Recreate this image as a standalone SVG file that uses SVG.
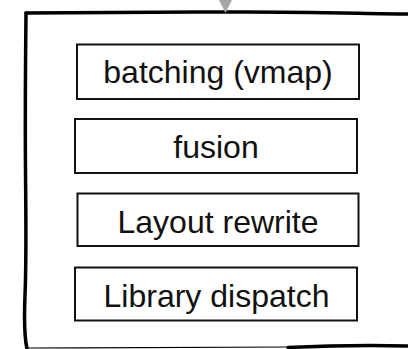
<svg xmlns="http://www.w3.org/2000/svg" width="408" height="349" viewBox="0 0 408 349">
<style>
.box{fill:#fff;stroke:#111;stroke-width:2}
.lbl{font-family:"Liberation Sans",Arial,sans-serif;font-size:32px;fill:#111;text-anchor:middle}
.frame{fill:none;stroke:#000;stroke-linecap:round;stroke-linejoin:round}
</style>
<rect width="408" height="349" fill="#fff"/>
<g id="container">
<path class="frame" stroke-width="3.5" d="M410,14 C360,13.5 300,11.5 225,12 C150,12.3 70,12.5 26,13"/>
<path class="frame" stroke-width="3.5" d="M26,13 C25.5,60 25,110 25.5,170 C26,230 26.5,260 25,295 C24,320 25,340 27,349"/>
<path class="frame" stroke-width="1.2" stroke="#555" d="M27,348 C120,348 220,347.5 290,347"/>
<path class="frame" stroke-width="3.5" d="M288,347.5 C330,345.5 370,345 410,346"/>
</g>
<g id="connectors">
<polygon points="219,0 232,0 225.5,13" fill="#a6a6a6"/>
</g>
<g id="n1"><rect class="box" x="77" y="44.5" width="282" height="54.5"/><text class="lbl" x="218" y="83">batching (vmap)</text></g>
<g id="n2"><rect class="box" x="75" y="119" width="282" height="54"/><text class="lbl" x="216" y="158">fusion</text></g>
<g id="n3"><rect class="box" x="77.5" y="193.5" width="281" height="52.5"/><text class="lbl" x="218" y="232.5">Layout rewrite</text></g>
<g id="n4"><rect class="box" x="75" y="267.5" width="282" height="53"/><text class="lbl" x="216.5" y="306.5">Library dispatch</text></g>
</svg>
